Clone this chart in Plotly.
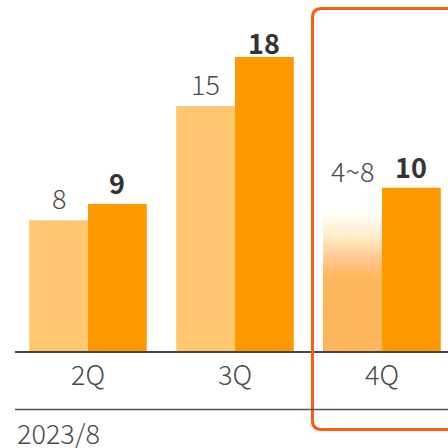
import plotly.graph_objects as go

categories = ["2Q", "3Q", "4Q"]
prev_values = [8, 15]          # light bars (2Q, 3Q)
cur_values = [9, 18, 10]       # dark bars (2Q, 3Q, 4Q)
q4_range = [4, 8]              # 4Q forecast range (light, gradient)
prev_labels = ["8", "15", "4~8"]
cur_labels = ["9", "18", "10"]
period_label = "2023/8"

LIGHT = "rgb(255,200,112)"
DARK = "rgb(255,153,0)"
FONT = "Noto Sans CJK JP"
FS = 27

W, H = 448, 448
ML, MB = 15, 97
plot_h = H - MB
y_max = 21.49
label_cap = 17.6

fig = go.Figure()
xs = list(range(len(categories)))

# light bars (2Q, 3Q)
fig.add_trace(go.Bar(x=xs[:2], y=prev_values, width=0.4, offset=-0.4,
                     marker=dict(color=LIGHT, line=dict(width=0)), showlegend=False))
# 4Q light: solid part up to the low value, then a fading gradient
lo, hi = q4_range
g0, g1 = lo + 0.6, hi + 1.1
fig.add_trace(go.Bar(x=[xs[2]], y=[g0], width=0.4, offset=-0.4,
                     marker=dict(color=LIGHT, line=dict(width=0)), showlegend=False))
N = 60
step = (g1 - g0) / N
def target(k):
    if k >= N:
        return 0.0
    t = (k + 0.5) / N
    return (1 - t) ** 1.5
for k in range(N):
    a = 1 - (1 - target(k)) / (1 - target(k + 1))
    fig.add_trace(go.Bar(x=[xs[2]], y=[g0 + (k + 1) * step], width=0.4, offset=-0.4,
                         marker=dict(color=f"rgba(255,200,112,{a:.4f})", line=dict(width=0)),
                         showlegend=False, hoverinfo="skip"))
# dark bars
fig.add_trace(go.Bar(x=xs, y=cur_values, width=0.4, offset=0,
                     marker=dict(color=DARK, line=dict(width=0)), showlegend=False))

annotations = []
prev_tops = prev_values + [hi + 1.65]
for i, (v, lab) in enumerate(zip(prev_tops, prev_labels)):
    annotations.append(dict(x=xs[i] - 0.2, y=min(v, label_cap), xref="x", yref="y", text=lab,
                            showarrow=False, yanchor="bottom", yshift=1,
                            font=dict(family=FONT, size=FS, color="#4a4a4a", weight=300)))
for i, (v, lab) in enumerate(zip(cur_values, cur_labels)):
    annotations.append(dict(x=xs[i] + 0.2, y=min(v, label_cap), xref="x", yref="y",
                            text=f"<b>{lab}</b>", showarrow=False, yanchor="bottom", yshift=0,
                            font=dict(family=FONT, size=FS, color="#333333")))
annotations.append(dict(x=0, y=(plot_h - 433) / plot_h, xref="paper", yref="paper",
                        text=period_label, showarrow=False, xanchor="left", yanchor="middle",
                        font=dict(family=FONT, size=FS, color="#4a4a4a", weight=300)))

plot_w = W - ML
def px(xp):
    return (xp - ML) / plot_w
def py(yp):
    return (plot_h - yp) / plot_h

# orange rounded frame around 4Q
x0, x1 = px(312.5), px(470)
y0, y1 = py(429.5), py(8.5)
rx, ry = 9 / plot_w, 9 / plot_h
path = (f"M {x1},{y1} L {x0+rx},{y1} Q {x0},{y1} {x0},{y1-ry} "
        f"L {x0},{y0+ry} Q {x0},{y0} {x0+rx},{y0} L {x1},{y0}")
shapes = [
    dict(type="path", xref="paper", yref="paper", path=path,
         line=dict(color="rgb(255,90,20)", width=3)),
    dict(type="line", xref="paper", yref="paper", x0=0, x1=1.05, y0=py(409.5), y1=py(409.5),
         line=dict(color="#555555", width=1.5)),
]

fig.update_layout(
    width=W, height=H, margin=dict(l=ML, r=0, t=0, b=MB),
    paper_bgcolor="white", plot_bgcolor="white",
    barmode="overlay", annotations=annotations, shapes=shapes,
    xaxis=dict(range=[(ML - 88) / 147, (W - 88) / 147], tickvals=xs, ticktext=categories,
               showgrid=False, zeroline=False, showline=True, linecolor="#444444", linewidth=1.5,
               ticks="", tickfont=dict(family=FONT, size=FS, color="#4a4a4a", weight=300),
               ticklabelstandoff=0),
    yaxis=dict(range=[0, y_max], visible=False),
)

fig.write_html("out.html")
